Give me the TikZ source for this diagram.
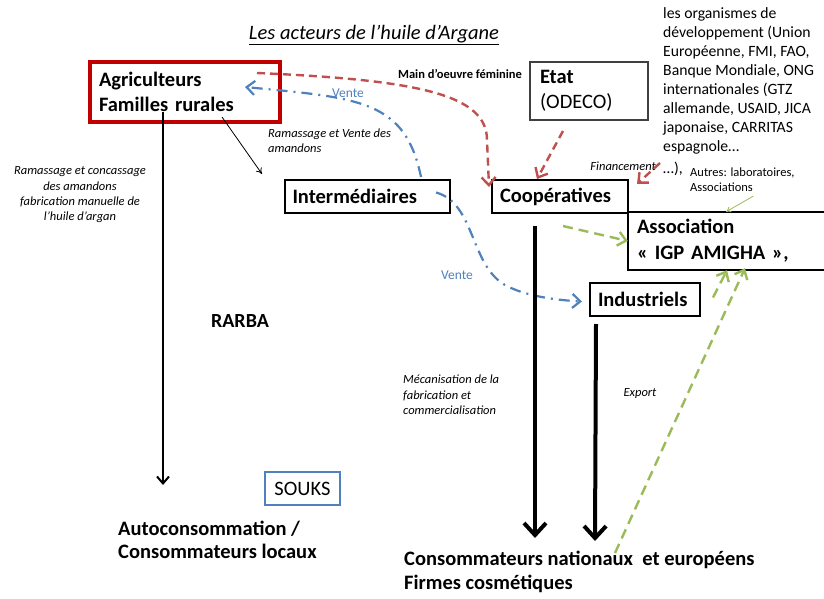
\documentclass[tikz,border=0pt]{standalone}
\usepackage{fontspec}
\setmainfont{Carlito}
\usepackage{xcolor}
\usepackage{tikz}
\usetikzlibrary{arrows.meta,positioning,calc}

\definecolor{agred}{HTML}{C00000}
\definecolor{dashred}{HTML}{C0504D}
\definecolor{agblue}{HTML}{4F81BD}
\definecolor{aggreen}{HTML}{9BBB59}
\definecolor{etatgray}{HTML}{404040}

\begin{document}
\begin{tikzpicture}[x=1pt, y=-1pt,
    box/.style={rectangle, draw, line width=2pt, inner sep=0pt, align=left,
                font=\fontsize{20.5}{25}\selectfont\bfseries},
    big/.style={inner sep=0pt, align=left, font=\fontsize{20.5}{23.5}\selectfont\bfseries},
    lbl/.style={inner sep=0pt, font=\fontsize{12.5}{15.3}\selectfont\itshape},
    note/.style={inner sep=0pt, align=left, font=\fontsize{12.5}{15}\selectfont},
    vente/.style={inner sep=0pt, text=agblue, font=\fontsize{13.5}{16}\selectfont},
    bluearr/.style={agblue, line width=2.2pt, dash pattern=on 11pt off 6pt on 2pt off 6pt,
                    -{Straight Barb[length=8pt,width=14pt]}},
    redarr/.style={dashred, line width=2.4pt, dash pattern=on 8pt off 5pt,
                   -{Straight Barb[length=8pt,width=14pt]}},
    greenarr/.style={aggreen, line width=2.4pt, dash pattern=on 10pt off 6pt,
                     -{Straight Barb[length=8pt,width=14pt]}},
    thickarr/.style={line width=4pt, -{Straight Barb[length=12pt,width=22pt]}},
    medarr/.style={line width=2pt, -{Straight Barb[length=7pt,width=12pt]}},
  ]

  \fill[white] (0,0) rectangle (824,599);
  \useasboundingbox (0,0) rectangle (824,599);

  % Title
  \node[inner sep=0pt, font=\fontsize{20.5}{24}\selectfont\itshape] (title) at (374,35)
    {\underline{Les acteurs de l’huile d’Argane}};

  % Agriculteurs
  \node[box, draw=agred, line width=4pt, minimum width=190, minimum height=60, text width=172]
    (agri) at (185,92) {Agriculteurs\\Familles rurales};

  % Etat
  \node[box, draw=etatgray, minimum width=118, minimum height=58, text width=98]
    (etat) at (589,91) {Etat\\\mdseries(ODECO)};

  % Organismes
  \node[inner sep=0pt, anchor=north west, align=left, font=\fontsize{15.7}{19}\selectfont]
    (orgs) at (663,7) {les organismes de\\développement (Union\\Européenne, FMI, FAO,\\Banque Mondiale, ONG\\internationales (GTZ\\allemande, USAID, JICA\\japonaise, CARRITAS\\espagnole…\\[3pt]…),};
  \node[note, anchor=west] (autres) at (690,180) {Autres: laboratoires,\\Associations};

  % Intermediaires, Cooperatives
  \node[box, minimum width=165, minimum height=33, text width=150] (inter) at (367.5,196.5) {Intermédiaires};
  \node[box, minimum width=136, minimum height=33, text width=120] (coop) at (560,196.5) {Coopératives};

  % Association (open to the right)
  \node[inner sep=0pt, minimum width=196, minimum height=58, text width=178, align=left,
        font=\fontsize{20.5}{26}\selectfont\bfseries]
    (assoc) at (726,241) {Association\\« IGP AMIGHA »,};
  \draw[line width=2pt] (assoc.north east) -- (assoc.north west) -- (assoc.south west) -- (assoc.south east);

  % Industriels
  \node[box, minimum width=110, minimum height=33, text width=94] (indus) at (645,299.5) {Industriels};

  % Souks
  \node[box, draw=agblue, line width=1.5pt, minimum width=75, minimum height=33, align=center,
        font=\fontsize{20.5}{24}\selectfont] (souks) at (302.5,488.5) {SOUKS};

  % Consommateurs
  \node[inner sep=0pt, font=\fontsize{20}{24}\selectfont\bfseries] (rarba) at (240,321) {RARBA};
  \node[big, anchor=west] (autoconso) at (118,540) {Autoconsommation /\\Consommateurs locaux};
  \node[big, anchor=west, font=\fontsize{20.5}{24}\selectfont\bfseries] (conso) at (404,572)
    {Consommateurs nationaux~ et européens\\Firmes cosmétiques};
  \coordinate (exportstart) at (615,553);

  % Arrows
  \draw[medarr] ($(agri.south)+(-22,-12)$) -- ++(0,373);
  \draw[line width=0.8pt, -{To[length=6pt,width=7pt]}] ($(agri.south east)+(-60,-7)$) -- ++(40,57);

  \draw[redarr] ($(agri.north east)+(-25,13)$) .. controls (420,80) and (487,95) .. (487,140)
    -- ($(coop.north west)+(-2,8)$);
  \draw[redarr] ($(etat.south)+(-26,10)$) -- ($(coop.north)+(-23,0)$);
  \draw[redarr] (660,163) -- ($(coop.north east)+(8,5)$);

  \draw[bluearr] ($(inter.north east)+(-30,-2)$) .. controls (405,100) and (360,98) .. ($(agri.east)+(-37,-5)$);
  \draw[bluearr] ($(inter.east)+(-15,-4)$) .. controls (475,203) and (470,265) .. (505,285)
    .. controls (525,296) and (555,300) .. ($(indus.west)+(-7,2)$);

  \draw[greenarr] ($(coop.south)+(3,12)$) -- (assoc.west);
  \draw[greenarr] ($(indus.east)+(12,-2)$) -- ($(assoc.south)+(1,0)$);
  \draw[greenarr] (exportstart) -- ($(assoc.south)+(19,-2)$);
  \draw[aggreen, line width=0.8pt, -{To[length=5pt,width=6pt]}] ($(autres.south)+(11,4)$) -- (assoc.north);

  \draw[thickarr] ($(coop.south)+(-25,12)$) -- ++(0,312);
  \draw[thickarr] ($(indus.south west)+(7,7)$) -- ++(-1,217);

  % Labels
  \node[inner sep=0pt, font=\fontsize{12.5}{15}\selectfont\bfseries] at (460,74) {Main d’oeuvre féminine};
  \node[vente] at (348,93) {Vente};
  \node[vente] at (457,275) {Vente};
  \node[lbl, anchor=west, align=left] at (268,141) {Ramassage et Vente des\\amandons};
  \node[lbl, align=center] at (80,195) {Ramassage et concassage\\des amandons\\fabrication manuelle de\\l’huile d’argan};
  \node[lbl, anchor=west, align=left] at (403,395) {Mécanisation de la\\fabrication et\\commercialisation};
  \node[lbl] at (640,393) {Export};
  \node[lbl, anchor=east] at (656,166) {Financement};

\end{tikzpicture}
\end{document}
